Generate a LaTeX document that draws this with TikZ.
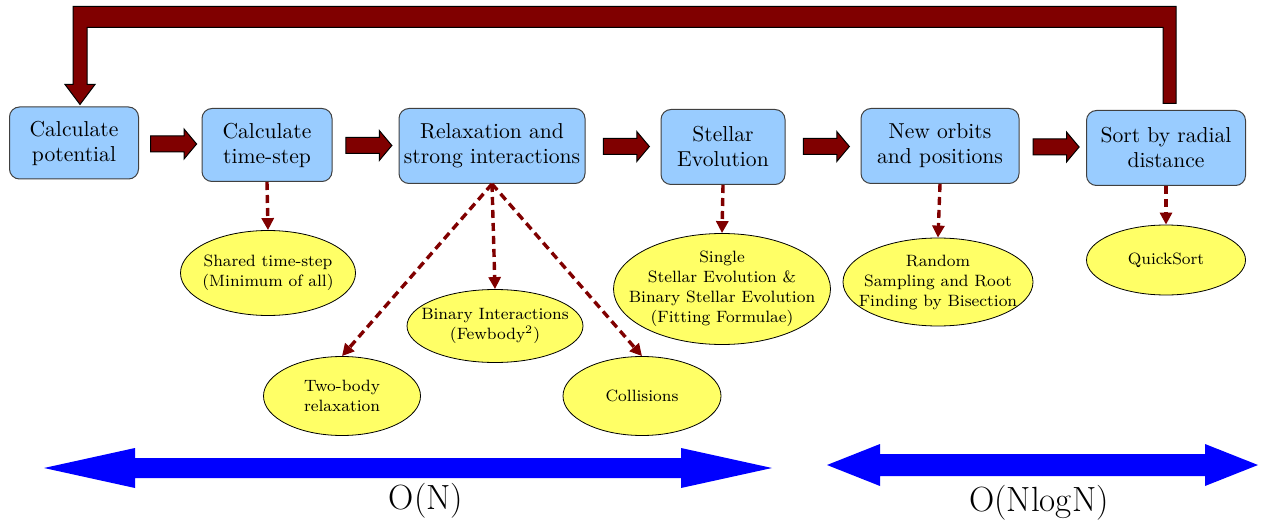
\documentclass[tikz,border=0pt]{standalone}
\usepackage{tikz}
\usetikzlibrary{arrows.meta,positioning,calc,shapes.geometric,shapes.arrows}
\definecolor{boxblue}{RGB}{153,204,255}
\definecolor{ovalyellow}{RGB}{255,255,102}
\definecolor{arrowred}{RGB}{128,0,0}

\begin{document}
\begin{tikzpicture}[x=0.5pt,y=-0.5pt]
% styles for the loop steps and the methods used in each step
\tikzset{stepbox/.style={draw=black!75, line width=0.5pt, fill=boxblue, rounded corners=5pt, align=center, inner sep=0pt, font=\fontsize{10.8}{12.5}\selectfont}}
\tikzset{method/.style={ellipse, draw=black, line width=0.4pt, fill=ovalyellow, align=center, inner sep=-10pt, font=\fontsize{8.2}{10}\selectfont}}
\tikzset{blockarr/.style={single arrow, draw=black, line width=0.5pt, fill=arrowred, minimum height=23pt, inner xsep=0pt, inner ysep=3.75pt, single arrow head extend=3.5pt, single arrow tip angle=100}}
\tikzset{dasharr/.style={draw=arrowred, line width=1.7pt, dash pattern=on 4pt off 2.5pt, -{Triangle[width=6pt,length=6pt]}}}
\tikzset{cost/.style={font=\fontsize{17.5}{20}\selectfont}}
\useasboundingbox (0,0) rectangle (1262,529);

% steps
\node[stepbox, minimum width=64.5pt, minimum height=36pt] (pot) at (74,143) {Calculate\\potential};
\node[stepbox, minimum width=65pt, minimum height=36.5pt] (tstep) at (267,145) {Calculate\\time-step};
\node[stepbox, minimum width=93pt, minimum height=37.5pt] (relax) at (492,146) {Relaxation and\\strong interactions};
\node[stepbox, minimum width=62pt, minimum height=37.5pt] (stellar) at (723,147) {Stellar\\Evolution};
\node[stepbox, minimum width=79pt, minimum height=37.5pt] (orbits) at (940,146) {New orbits\\and positions};
\node[stepbox, minimum width=79.5pt, minimum height=37.5pt] (sort) at (1166,148) {Sort by radial\\distance};

\node[blockarr] (a1) at ($(pot.east)!0.5!(tstep.west)$) {};
\node[blockarr] (a2) at ($(tstep.east)!0.5!(relax.west)$) {};
\node[blockarr] (a3) at ($(relax.east)!0.5!(stellar.west)$) {};
\node[blockarr] (a4) at ($(stellar.east)!0.5!(orbits.west)$) {};
\node[blockarr] (a5) at ($(orbits.east)!0.5!(sort.west)$) {};

% back to the start
\coordinate (fbend) at ($(sort.north)+(3.5,-6.5)$);
\coordinate (fbtip) at ($(pot.north)+(6,-2)$);
\filldraw[fill=arrowred, draw=black, line width=0.5pt] ($(fbend)+(-6.5,0)$) -- ($(fbend)+(6.5,0)$) -- ++(0,-97) -| ($(fbtip)+(-7,-20)$) -- ++(-8,0) -- (fbtip) -- ++(15,-20) -- ++(-8,0) |- ($(fbend)+(-6.5,-76)$) -- cycle;

% methods
\node[method, minimum width=87.5pt, minimum height=42.5pt] (shared) at (268,273) {Shared time-step\\(Minimum of all)};
\node[method, minimum width=88pt, minimum height=36.5pt] (binint) at (495,326) {Binary Interactions\\(Fewbody\textsuperscript{2})};
\node[method, minimum width=78.5pt, minimum height=39.5pt] (twobody) at (342,396) {Two-body\\relaxation};
\node[method, minimum width=79pt, minimum height=39.5pt] (coll) at (642,396) {Collisions};
\node[method, minimum width=108.5pt, minimum height=55.5pt] (sse) at (722,289) {Single\\Stellar Evolution \&\\Binary Stellar Evolution\\(Fitting Formulae)};
\node[method, minimum width=95pt, minimum height=44pt] (rand) at (938,282) {Random\\Sampling and Root\\Finding by Bisection};
\node[method, minimum width=79.5pt, minimum height=35pt] (qsort) at (1166,260) {QuickSort};

\draw[dasharr] (tstep.south) -- (shared.north);
\draw[dasharr] (relax.south) -- (binint.north);
\draw[dasharr] (relax.south) -- (twobody.north);
\draw[dasharr] (relax.south) -- (coll.north);
\draw[dasharr] (stellar.south) -- (sse.north);
\draw[dasharr] (orbits.south) -- (rand.north);
\draw[dasharr] (sort.south) -- (qsort.north);

% cost ranges
\coordinate (lin) at (408,468);
\coordinate (linL) at (44,468);
\coordinate (linR) at (772,468);
\coordinate (nlog) at (1042,465);
\coordinate (nlogL) at (827,465);
\coordinate (nlogR) at (1258,465);
\fill[blue] ($(lin)+(0,-10)$) -| ($(linL)+(91,-20)$) -- (linL) -- ($(linL)+(91,20)$) |- ($(lin)+(0,10)$) -- cycle;
\fill[blue] ($(lin)+(0,-10)$) -| ($(linR)+(-91,-20)$) -- (linR) -- ($(linR)+(-91,20)$) |- ($(lin)+(0,10)$) -- cycle;
\fill[blue] ($(nlog)+(0,-11)$) -| ($(nlogL)+(53,-21)$) -- (nlogL) -- ($(nlogL)+(53,21)$) |- ($(nlog)+(0,11)$) -- cycle;
\fill[blue] ($(nlog)+(0,-11)$) -| ($(nlogR)+(-53,-21)$) -- (nlogR) -- ($(nlogR)+(-53,21)$) |- ($(nlog)+(0,11)$) -- cycle;
\node[cost] (lincost) at (426,501) {O(N)};
\node[cost] (nlogcost) at (1039,503) {O(NlogN)};
\end{tikzpicture}
\end{document}
